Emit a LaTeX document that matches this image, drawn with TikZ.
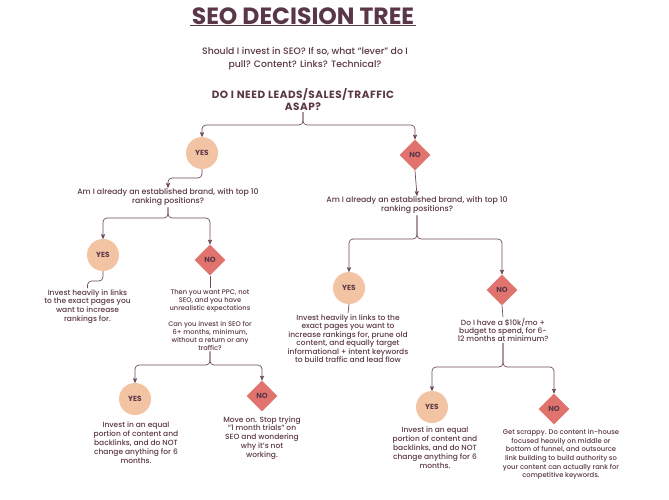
\documentclass[tikz,border=0pt]{standalone}
\usepackage{fontspec}
\setmainfont{Poppins}[UprightFont=* Medium, BoldFont=* Bold]
\usetikzlibrary{arrows}
\usetikzlibrary{shapes.geometric}

\definecolor{plum}{RGB}{90,55,70}
\definecolor{peach}{RGB}{243,196,163}
\definecolor{salmon}{RGB}{224,115,110}
\definecolor{wirecol}{RGB}{110,75,88}
\definecolor{dotcol}{RGB}{228,228,228}

\tikzset{
  yesdot/.style={circle, fill=peach, minimum size=32pt, inner sep=0pt, text=plum,
    font=\fontsize{7.4}{8}\selectfont\bfseries},
  nodiam/.style={diamond, fill=salmon, minimum size=31pt, inner sep=0pt, aspect=1, text=plum,
    font=\fontsize{7.4}{8}\selectfont\bfseries},
  txt/.style={align=center, inner sep=1pt, text=plum, font=\fontsize{7.5}{8.9}\selectfont},
  quest/.style={txt, font=\fontsize{7.8}{9}\selectfont},
  smalltxt/.style={txt, font=\fontsize{6.7}{8}\selectfont},
  wire/.style={draw=wirecol, line width=0.7pt, rounded corners=4pt},
  arr/.style={wire, ->, >=stealth'},
}

\begin{document}
\begin{tikzpicture}[x=1pt, y=-1pt]
    \useasboundingbox (0,0) rectangle (669,499);

    % dotted paper
    \foreach \i in {0,...,95}
      \foreach \j in {0,...,68}
        \fill[dotcol] (\i*7+3, \j*7+3) circle (0.45);

    % title
    \node[anchor=base, inner sep=1.5pt, outer sep=0pt, text=plum,
      font=\fontsize{23.5}{26}\selectfont\bfseries] (title) at (303,24) {SEO DECISION TREE};
    \draw[plum, line width=1.5pt] (title.south west) -- (title.south east);
    \node[txt, font=\fontsize{9.3}{13}\selectfont] (sub) at (305,58.5)
      {Should I invest in SEO? If so, what ``lever'' do I\\pull? Content? Links? Technical?};

    % main question
    \node[txt, font=\fontsize{10.5}{12}\selectfont\bfseries\addfontfeatures{LetterSpace=5}] (head) at (303,100)
      {DO I NEED LEADS/SALES/TRAFFIC\\ASAP?};
    \node[yesdot] (yesA) at (202,153) {YES};
    \node[nodiam] (noA) at (415,155) {NO};
    \draw[arr] (head.south) -- (303,125) -| (yesA.north);
    \draw[arr] (head.south) -- (303,125) -| (noA.north);

    % yes -> brand question
    \node[quest] (qA) at (168,197.5)
      {Am I already an established brand, with top 10\\ranking positions?};
    \draw[arr] (yesA.south) -- (202,178) -| (qA.north);

    \node[yesdot] (yesB) at (103,255) {YES};
    \node[nodiam] (noB) at (210,260) {NO};
    \draw[arr] (qA.south) -- (168,218) -| (yesB.north);
    \draw[arr] (qA.south) -- (168,218) -| (noB.north);

    \node[txt] (tB1) at (87.5,306.5)
      {Invest heavily in links\\to the exact pages you\\want to increase\\rankings for.};
    \draw[wire] (yesB.south) -- (103,281) -| (tB1.north);

    \node[smalltxt] (tB2) at (210,301)
      {Then you want PPC, not\\SEO, and you have\\unrealistic expectations};
    \draw[wire] (noB.south) -- (tB2.north);
    \node[smalltxt] (tB3) at (210,335.5)
      {Can you invest in SEO for\\6+ months, minimum,\\without a return or any\\traffic?};

    % 6+ months question -> yes / no
    \node[yesdot] (yesD) at (135,399) {YES};
    \node[nodiam] (noD) at (262,396) {NO};
    \draw[arr] (tB3.south) -- (210,365) -| (yesD.north);
    \draw[arr] (tB3.south) -- (210,365) -| (noD.north);
    \node[txt] (tD1) at (136,442.5)
      {Invest in an equal\\portion of content and\\backlinks, and do NOT\\change anything for 6\\months.};
    \node[txt] (tD2) at (262,438)
      {Move on. Stop trying\\``1 month trials'' on\\SEO and wondering\\why it's not\\working.};

    % no -> brand question
    \node[quest] (qB) at (417,205.5)
      {Am I already an established brand, with top 10\\ranking positions?};
    \draw[arr] (noA.south) -- (qB.north);

    \node[yesdot] (yesC) at (349,288) {YES};
    \node[nodiam] (noC) at (502,290) {NO};
    \draw[arr] (qB.south) -- (417,239) -| (yesC.north);
    \draw[arr] (qB.south) -- (417,239) -| (noC.north);

    \node[txt, font=\fontsize{7.5}{8.5}\selectfont] (tC1) at (348,338.5)
      {Invest heavily in links to the\\exact pages you want to\\increase rankings for, prune old\\content, and equally target\\informational + intent keywords\\to build traffic and lead flow};
    \draw[wire] (yesC.south) -- (tC1.north);
    \node[txt, font=\fontsize{7.5}{8.2}\selectfont] (tC2) at (503,330)
      {Do I have a \$10k/mo +\\budget to spend, for 6-\\12 months at minimum?};
    \draw[wire] (noC.south) -- (tC2.north);

    % budget question -> yes / no
    \node[yesdot] (yesE) at (432,407) {YES};
    \node[nodiam] (noE) at (554,409) {NO};
    \draw[arr] (tC2.south) -- (503,367) -| (yesE.north);
    \draw[arr] (tC2.south) -- (503,367) -| (noE.north);
    \node[txt] (tE1) at (435,447.5)
      {Invest in an equal\\portion of content and\\backlinks, and do NOT\\change anything for 6\\months.};
    \node[txt, font=\fontsize{6.8}{8.6}\selectfont] (tE2) at (561,454.5)
      {Get scrappy. Do content in-house\\focused heavily on middle or\\bottom of funnel, and outsource\\link building to build authority so\\your content can actually rank for\\competitive keywords.};
\end{tikzpicture}
\end{document}
